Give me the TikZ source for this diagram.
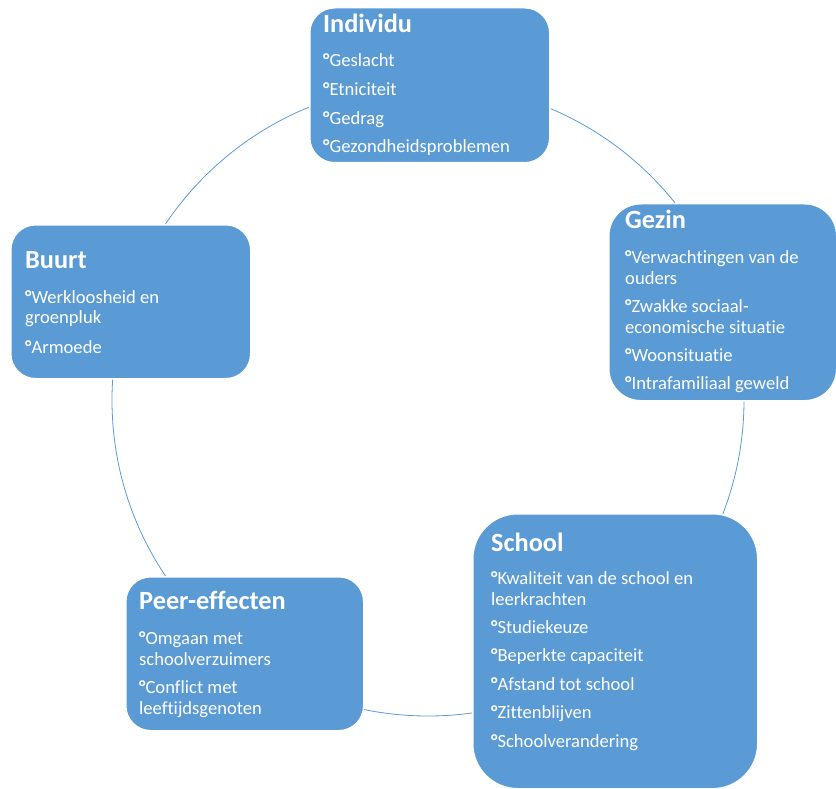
\documentclass[tikz,border=0pt]{standalone}
\usepackage{fontspec}
\setmainfont{Carlito}[Ligatures=NoCommon]
\definecolor{boxblue}{HTML}{5B9BD5}
\tikzset{
  cbox/.style={draw=white, line width=1.5pt, fill=boxblue, anchor=north west, inner sep=0pt},
  ttl/.style={anchor=base west, inner sep=0pt, text=white, font=\fontsize{26.3}{30}\selectfont\bfseries},
  txtline/.style={anchor=base west, inner sep=0pt, text=white, font=\fontsize{18.6}{21}\selectfont},
  ring/.style={draw=boxblue, line width=0.8pt}
}
\newcommand\bul{{\bfseries °}}
\newcommand\boxlines[3]{%
  \foreach \ytxt/\ltxt [count=\i] in {#3} {\node[txtline] (#1-\i) at (#2,\ytxt) {\ltxt};}}
\begin{document}
\begin{tikzpicture}[x=1pt,y=-1pt]
\useasboundingbox (0,0) rectangle (836,789);
\coordinate (ctr) at (428,400);
\draw[ring] (ctr) circle[radius=316pt];
% boxes
\node[cbox, minimum width=240pt, minimum height=155pt, rounded corners=25pt] (ind) at (309,7) {};
\node[cbox, minimum width=228pt, minimum height=197pt, rounded corners=32pt] (gez) at (608,203) {};
\node[cbox, minimum width=240pt, minimum height=154pt, rounded corners=25pt] (buu) at (10,224) {};
\node[cbox, minimum width=285pt, minimum height=275pt, rounded corners=45pt] (sch) at (472,513) {};
\node[cbox, minimum width=238pt, minimum height=154pt, rounded corners=25pt] (pee) at (125,576) {};
% titles
\node[ttl] (ind-t) at (323,33) {Individu};
\node[ttl] (gez-t) at (625,229) {Gezin};
\node[ttl] (buu-t) at (25,268) {Buurt};
\node[ttl] (sch-t) at (491,551) {School};
\node[ttl] (pee-t) at (139,609) {Peer-effecten};
% texts
\boxlines{ind}{323}{67/\bul Geslacht, 96/\bul Etniciteit, 125/\bul Gedrag, 153/\bul Gezondheidsproblemen}
\boxlines{gez}{625}{263.5/\bul Verwachtingen van de, 284.5/ouders, 312/\bul Zwakke sociaal-, 333/economische situatie, 361.5/\bul Woonsituatie, 389/\bul Intrafamiliaal geweld}
\boxlines{buu}{25}{303/\bul Werkloosheid en, 323.5/groenpluk, 353/\bul Armoede}
\boxlines{sch}{491}{584/\bul Kwaliteit van de school en, 605/leerkrachten, 633/\bul Studiekeuze, 661.5/\bul Beperkte capaciteit, 690/\bul Afstand tot school, 718.5/\bul Zittenblijven, 747/\bul Schoolverandering}
\boxlines{pee}{139}{644.5/\bul Omgaan met, 665.5/schoolverzuimers, 693/\bul Conflict met, 714/leeftijdsgenoten}
\end{tikzpicture}
\end{document}
